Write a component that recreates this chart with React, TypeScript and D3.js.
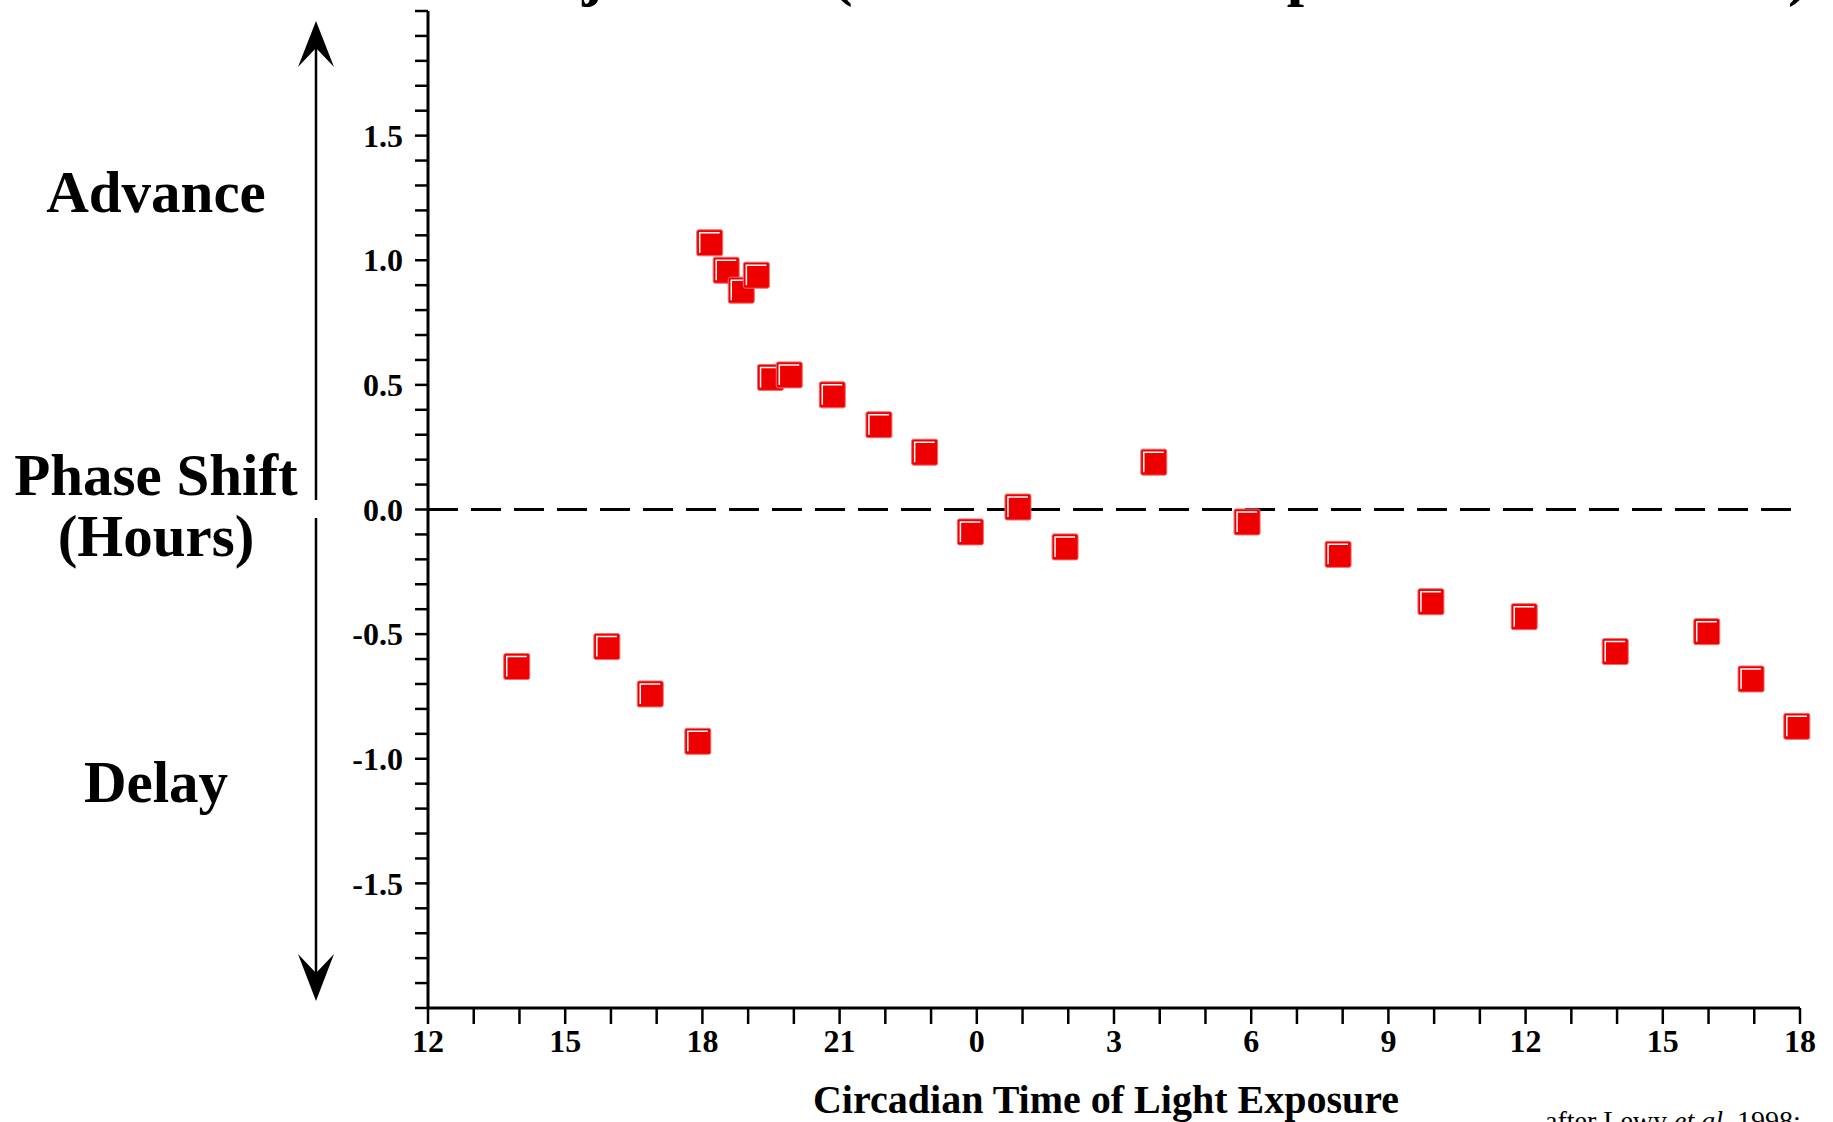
import * as d3 from 'd3';

// circadian time in continuous hours (12 = noon day 1, 24 = midnight, 42 = 18h next day)
const circadianTime = [
  13.94, 15.91, 16.86, 17.9, 18.16, 18.52, 18.85, 19.18, 19.49, 19.9,
  20.84, 21.86, 22.86, 23.86, 24.9, 25.93, 27.87, 29.91, 31.9, 33.93,
  35.97, 37.96, 39.96, 40.93, 41.93,
];
const phaseShift = [
  -0.63, -0.55, -0.74, -0.93, 1.07, 0.96, 0.88, 0.94, 0.53, 0.54,
  0.46, 0.34, 0.23, -0.09, 0.01, -0.15, 0.19, -0.05, -0.18, -0.37,
  -0.43, -0.57, -0.49, -0.68, -0.87,
];

const xTickValues = [12, 15, 18, 21, 24, 27, 30, 33, 36, 39, 42];
const xTickLabels = ['12', '15', '18', '21', '0', '3', '6', '9', '12', '15', '18'];
const yTickValues = [1.5, 1.0, 0.5, 0.0, -0.5, -1.0, -1.5];
const yTickLabels = ['1.5', '1.0', '0.5', '0.0', '-0.5', '-1.0', '-1.5'];

const WIDTH = 1833;
const HEIGHT = 1122;
const SERIF = '"Liberation Serif", "Times New Roman", serif';
const RED = '#ee0000';

export default function App() {
  const x = d3.scaleLinear().domain([12, 42]).range([428, 1800]);
  const y = d3.scaleLinear().domain([-2, 2]).range([1008, 11]);

  const xMinor = d3.range(12, 43, 1);
  const yMinor = d3.range(-20, 21).map((i) => i / 10);

  const points = circadianTime.map((t, i) => ({ t, v: phaseShift[i] }));
  const s = 26; // marker side

  const arrowX = 316;

  return (
    <div style={{ position: 'absolute', left: 0, top: 0 }}>
      <svg width={WIDTH} height={HEIGHT} viewBox={`0 0 ${WIDTH} ${HEIGHT}`} style={{ display: 'block', background: '#fff' }}>
        {/* Title, mostly above the frame */}
        <text y={-6} fontFamily={SERIF} fontWeight="bold" fontSize={62} fill="#000">
          <tspan x={336}>Phase Adjustment (Adult Phase Response Curve</tspan>
          <tspan x={1788}>)</tspan>
        </text>

        {/* Side labels */}
        <g fontFamily={SERIF} fontWeight="bold" fontSize={59} fill="#000" textAnchor="middle">
          <text x={156} y={212}>Advance</text>
          <text x={156} y={495}>Phase Shift</text>
          <text x={156} y={556}>(Hours)</text>
          <text x={156} y={802}>Delay</text>
        </g>

        {/* Double arrow */}
        <line x1={arrowX} x2={arrowX} y1={45} y2={500} stroke="#000" strokeWidth={2.5} />
        <line x1={arrowX} x2={arrowX} y1={518} y2={975} stroke="#000" strokeWidth={2.5} />
        <path d={`M${arrowX},21 L${arrowX + 18},67 L${arrowX},48 L${arrowX - 18},67 Z`} fill="#000" />
        <path d={`M${arrowX},1001 L${arrowX + 18},954 L${arrowX},973 L${arrowX - 18},954 Z`} fill="#000" />

        {/* Zero line */}
        <line x1={x(12)} x2={x(42)} y1={y(0)} y2={y(0)} stroke="#000" strokeWidth={3} strokeDasharray="30,13" />

        {/* Y axis */}
        <line x1={x(12)} x2={x(12)} y1={y(2)} y2={y(-2)} stroke="#000" strokeWidth={3} />
        {yMinor.map((v, i) => (
          <line key={`yt-${i}`} x1={x(12) - 13} x2={x(12)} y1={y(v)} y2={y(v)} stroke="#000" strokeWidth={2.5} />
        ))}
        {yTickValues.map((v, i) => (
          <text
            key={`yl-${i}`}
            x={403}
            y={y(v)}
            dy="0.35em"
            textAnchor="end"
            fontFamily={SERIF}
            fontWeight="bold"
            fontSize={32}
            fill="#000"
          >
            {yTickLabels[i]}
          </text>
        ))}

        {/* X axis */}
        <line x1={x(12)} x2={x(42)} y1={y(-2)} y2={y(-2)} stroke="#000" strokeWidth={3} />
        {xMinor.map((t, i) => (
          <line key={`xt-${i}`} x1={x(t)} x2={x(t)} y1={y(-2)} y2={y(-2) + 16} stroke="#000" strokeWidth={2.5} />
        ))}
        {xTickValues.map((t, i) => (
          <text
            key={`xl-${i}`}
            x={x(t)}
            y={1052}
            textAnchor="middle"
            fontFamily={SERIF}
            fontWeight="bold"
            fontSize={32}
            fill="#000"
          >
            {xTickLabels[i]}
          </text>
        ))}
        <text x={1106} y={1113} textAnchor="middle" fontFamily={SERIF} fontWeight="bold" fontSize={40} fill="#000">
          Circadian Time of Light Exposure
        </text>

        {/* Source note, cut by the frame */}
        <text x={1545} y={1130} fontFamily={SERIF} fontSize={28} fill="#000">
          after Lewy <tspan fontStyle="italic">et al.</tspan> 1998;
        </text>

        {/* Markers */}
        {points.map((p, i) => {
          const cx = x(p.t);
          const cy = y(p.v);
          return (
            <g key={`pt-${i}`} transform={`translate(${cx - s / 2},${cy - s / 2})`}>
              <rect width={s} height={s} rx={2} fill={RED} stroke="#f36a6a" strokeWidth={1} />
              <path
                d={`M3,${s - 3} L3,3 L${s - 3},3`}
                fill="none"
                stroke="#fff"
                strokeWidth={1.5}
              />
            </g>
          );
        })}
      </svg>
    </div>
  );
}
